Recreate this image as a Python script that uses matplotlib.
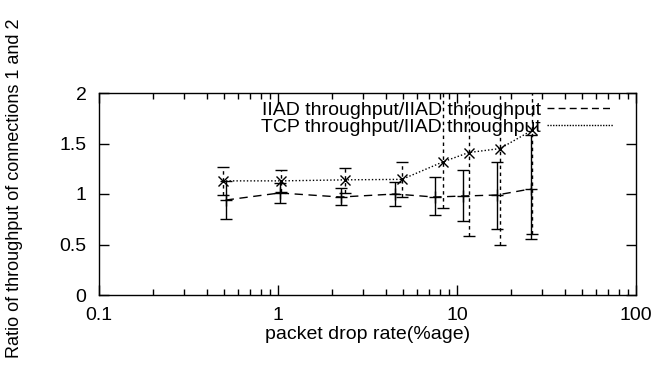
import numpy as np
import matplotlib
matplotlib.use('Agg')
import matplotlib.pyplot as plt
from matplotlib.lines import Line2D
from matplotlib.ticker import LogLocator, NullFormatter

plt.rcParams['font.family'] = ['Liberation Sans', 'DejaVu Sans']
plt.rcParams['font.size'] = 14

# IIAD throughput / IIAD throughput
iiad_x = [0.51, 1.02, 2.24, 4.5, 7.5, 10.8, 16.7, 25.8]
iiad_y = [0.94, 1.01, 0.97, 1.00, 0.97, 0.98, 0.99, 1.05]
iiad_lo = [0.75, 0.91, 0.89, 0.88, 0.79, 0.73, 0.65, 0.55]
iiad_hi = [1.13, 1.11, 1.06, 1.12, 1.17, 1.24, 1.32, 1.58]

# TCP throughput / IIAD throughput
tcp_x = [0.49, 1.04, 2.37, 4.93, 8.4, 11.6, 17.4, 26.2]
tcp_y = [1.13, 1.13, 1.14, 1.145, 1.32, 1.41, 1.45, 1.63]
tcp_lo = [0.99, 1.02, 1.01, 0.97, 0.86, 0.58, 0.50, 0.60]
tcp_hi = [1.27, 1.24, 1.26, 1.32, 2.5, 2.5, 2.5, 2.5]

fig = plt.figure(figsize=(6.68, 3.81), dpi=100)
ax = fig.add_axes([99/668, 86/381, 537/668, 202/381])

iiad_err = [np.array(iiad_y) - np.array(iiad_lo), np.array(iiad_hi) - np.array(iiad_y)]
tcp_err = [np.array(tcp_y) - np.array(tcp_lo), np.array(tcp_hi) - np.array(tcp_y)]

ax.errorbar(iiad_x, iiad_y, yerr=iiad_err, fmt='none', ecolor='black', elinewidth=1,
            capsize=4, capthick=1)
ax.plot(iiad_x, iiad_y, color='black', lw=1, ls=(0, (6, 4)), marker='+', ms=9, mew=1)

eb = ax.errorbar(tcp_x, tcp_y, yerr=tcp_err, fmt='none', ecolor='black', elinewidth=1,
                 capsize=4, capthick=1)
for c in eb[2]:
    c.set_linestyle((0, (2.5, 2.5)))
ax.plot(tcp_x, tcp_y, color='black', lw=1, ls=(0, (1, 1.5)), marker='x', ms=7, mew=1)

ax.set_xscale('log')
ax.set_xlim(0.1, 100)
ax.set_ylim(0, 2)
ax.set_yticks([0, 0.5, 1, 1.5, 2])
ax.set_yticklabels(['0', '0.5', '1', '1.5', '2'])
ax.set_xticks([0.1, 1, 10, 100])
ax.set_xticklabels(['0.1', '1', '10', '100'])
ax.xaxis.set_minor_locator(LogLocator(base=10, subs=np.arange(2, 10)))
ax.xaxis.set_minor_formatter(NullFormatter())

ax.tick_params(which='both', direction='in', top=True, right=True, width=1)
ax.tick_params(which='major', length=7)
ax.tick_params(axis='y', pad=9)
ax.tick_params(axis='x', pad=9)
ax.tick_params(which='minor', length=4)
for s in ax.spines.values():
    s.set_linewidth(1)

ax.set_xlabel('packet drop rate(%age)', labelpad=1)
fig.text(15/668, 0.505, 'Ratio of throughput of connections 1 and 2', rotation=90,
         ha='center', va='center', fontsize=13)

handles = [Line2D([], [], color='black', lw=1, ls=(0, (5, 3))),
           Line2D([], [], color='black', lw=1, ls=(0, (1, 1)))]
ax.legend(handles, ['IIAD throughput/IIAD throughput', 'TCP throughput/IIAD throughput'],
          loc='upper right', bbox_to_anchor=(0.957, 0.96), frameon=False, markerfirst=False,
          handlelength=3.4, handletextpad=0.3, labelspacing=0.0, borderpad=0, borderaxespad=0)

fig.savefig('out.png', dpi=100)
